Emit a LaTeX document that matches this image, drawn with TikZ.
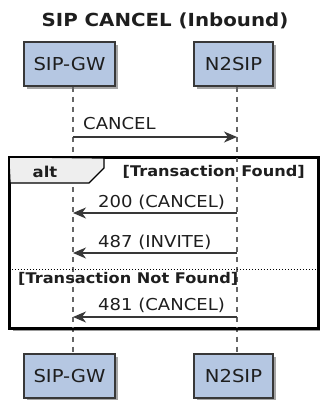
\documentclass[tikz,border=0pt]{standalone}
\usepackage{fontspec}
\setmainfont{DejaVu Sans}[FakeStretch=1.1]
\usetikzlibrary{arrows.meta,calc,shadows}

\definecolor{partfill}{RGB}{181,199,226}
\definecolor{partline}{RGB}{56,56,56}
\definecolor{msgline}{RGB}{56,56,56}
\definecolor{tabfill}{RGB}{238,238,238}
\definecolor{txt}{RGB}{30,30,30}

\tikzset{
  participant/.style={draw=partline, line width=1.4pt, fill=partfill,
    minimum width=#1, minimum height=44pt, inner sep=0pt,
    font=\fontsize{17.8}{20}\selectfont, text=txt,
    drop shadow={shadow xshift=3pt, shadow yshift=-3pt, opacity=0.35, fill=black}},
  lifeline/.style={draw=black!60, line width=1.3pt, dash pattern=on 5pt off 5pt},
  msg/.style={draw=msgline, line width=1.3pt,
    -{Stealth[length=13pt,width=11pt,inset=4pt]}},
  msgtext/.style={font=\fontsize{16.4}{18}\selectfont, text=txt,
    inner sep=0pt, anchor=base west},
  guard/.style={font=\bfseries\fontsize{14.7}{16}\selectfont, text=txt, inner sep=0pt},
}

\begin{document}
\begin{tikzpicture}[x=1pt, y=-1pt]
  \useasboundingbox (0,0) rectangle (320,400);

  % title
  \node[font=\bfseries\fontsize{18}{20}\selectfont, text=txt, anchor=base, inner sep=0pt]
    (title) at (165,26) {SIP CANCEL (Inbound)};

  % lifeline positions
  \coordinate (gwl) at (73,0);
  \coordinate (nsl) at (237,0);

  % participants, top and bottom
  \node[participant=91pt] (gwtop) at (69.5,64)  {SIP-GW};
  \node[participant=79pt] (nstop) at (233.5,64) {N2SIP};
  \node[participant=91pt] (gwbot) at (69.5,376) {SIP-GW};
  \node[participant=79pt] (nsbot) at (233.5,376) {N2SIP};

  % lifelines
  \draw[lifeline] (gwl |- gwtop.south) -- (gwl |- gwbot.north);
  \draw[lifeline] (nsl |- nstop.south) -- (nsl |- nsbot.north);

  % first message
  \draw[msg] (gwl |- 0,137) -- (nsl |- 0,137);
  \node[msgtext] (m1) at (83,129) {CANCEL};

  % alt fragment: white body with a shadow, lifelines redrawn on top
  \node[draw=black, line width=2.4pt, minimum width=308pt, minimum height=170pt,
        inner sep=0pt, fill=white,
        drop shadow={shadow xshift=3pt, shadow yshift=-3pt, opacity=0.4, fill=black}]
    (altframe) at (164,243) {};
  \draw[lifeline] (gwl |- altframe.north) -- (gwl |- altframe.south);
  \draw[lifeline] (nsl |- altframe.north) -- (nsl |- altframe.south);
  \draw[draw=black, line width=1.3pt, fill=tabfill]
    (altframe.north west) -- (104,158) -- (104,168) -- (89,183) -- (10,183) -- cycle;
  \draw[draw=black, line width=2.4pt] (altframe.north west) rectangle (altframe.south east);
  \node[guard, font=\bfseries\fontsize{15}{16}\selectfont, anchor=base] (altlbl) at (45,177) {alt};
  \node[guard, anchor=base east] (g1) at (305,176) {[Transaction Found]};

  \draw[msg] (nsl |- 0,213) -- (gwl |- 0,213);
  \node[msgtext] (m2) at (98,207) {200 (CANCEL)};

  \draw[msg] (nsl |- 0,253) -- (gwl |- 0,253);
  \node[msgtext] (m3) at (98,247) {487 (INVITE)};

  % else separator
  \draw[black, line width=0.9pt, dash pattern=on 1.5pt off 1.5pt]
    (altframe.west |- 0,269) -- (altframe.east |- 0,269);
  \node[guard, anchor=base west] (g2) at (18,283) {[Transaction Not Found]};

  \draw[msg] (nsl |- 0,317) -- (gwl |- 0,317);
  \node[msgtext] (m4) at (98,310) {481 (CANCEL)};
\end{tikzpicture}
\end{document}
